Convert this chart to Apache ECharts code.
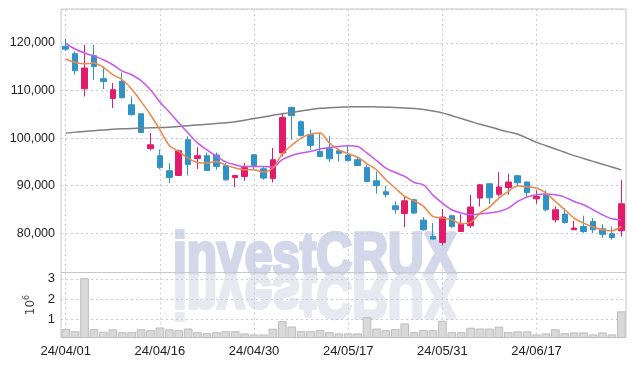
<!DOCTYPE html>
<html><head><meta charset="utf-8">
<script src="https://cdn.jsdelivr.net/npm/echarts@6/dist/echarts.min.js"></script>
<style>html,body{margin:0;padding:0;background:#fff}#c{width:634px;height:366px}</style>
</head><body><div id="c"></div><script>
const dates = ['24/04/01','24/04/02','24/04/03','24/04/04','24/04/05','24/04/08','24/04/09','24/04/11','24/04/12','24/04/15',
'24/04/16','24/04/17','24/04/18','24/04/19','24/04/22','24/04/23','24/04/24','24/04/25','24/04/26','24/04/29',
'24/04/30','24/05/02','24/05/03','24/05/07','24/05/08','24/05/09','24/05/10','24/05/13','24/05/14','24/05/16',
'24/05/17','24/05/20','24/05/21','24/05/22','24/05/23','24/05/24','24/05/27','24/05/28','24/05/29','24/05/30',
'24/05/31','24/06/03','24/06/04','24/06/05','24/06/07','24/06/10','24/06/11','24/06/12','24/06/13','24/06/14',
'24/06/17','24/06/18','24/06/19','24/06/20','24/06/21','24/06/24','24/06/25','24/06/26','24/06/27','24/06/28'];
const openP = [119330,117750,110380,117330,112480,108340,111920,107010,105120,97810,
96280,93120,92130,99650,95710,96280,96420,94170,91710,91920,
96490,93540,91500,96850,106440,103430,100700,97180,97750,97330,
96340,95440,93820,91010,88700,85750,84130,87010,82740,79290,
78030,83650,80340,81540,87370,90380,88170,89600,92070,90740,
87220,88070,82800,84000,80700,81390,82450,80910,79860,80490];
const closeP = [118700,114170,114740,115070,111920,110170,108490,104910,101180,98590,
93810,91710,97330,94440,96280,93180,94020,91220,92130,93820,
94230,91580,95440,104340,104760,100550,98450,96130,95640,96760,
95220,94230,90870,90020,88130,84970,86800,84220,80700,78740,
83370,81400,81860,85480,90170,87430,89690,90740,90590,88550,
87710,84910,84910,82240,81060,80340,80700,79750,79080,86170];
const lowP = [118300,113330,108760,112270,110320,106320,108340,104760,101050,97390,
93480,90530,92070,92130,93480,93120,93330,91010,89690,91010,
93330,91220,90660,96130,99650,100340,97540,96130,94950,95080,
95220,94170,90660,88280,87500,84070,81270,84000,80550,78600,
77440,81120,80280,81120,85610,86110,87710,88070,89810,87500,
86170,84550,82240,81960,80640,80000,80030,78960,78600,79290];
const highP = [120900,118230,119640,119640,115070,111580,113810,108760,105180,101050,
97600,94700,97540,100380,98110,96970,96970,94740,92210,94740,
96640,94030,97900,105260,106600,103710,101750,101050,100490,97430,
98450,96130,94380,92970,89960,86660,87710,87220,83370,82110,
85060,83860,83960,88070,90280,90450,92840,92490,92280,90870,
88970,88970,85610,85270,82590,83650,83170,81860,81400,91220];
const maShort = [116630,115920,115640,115790,114860,113330,112270,110320,107710,104910,
101750,98450,97180,95800,94870,94740,95080,94300,93690,93330,
93330,92840,93690,96640,98500,100000,100800,101050,98950,97540,
96700,96000,94590,93330,91220,89480,87710,86800,85610,83500,
83160,82800,81960,82240,84220,85480,87370,88760,89960,89690,
89480,88430,86660,84910,83160,82110,81270,80700,80490,81390];
const maMid = [119900,118740,117900,117250,116480,115430,114100,113330,112100,110170,
107600,105500,103200,101050,99000,97500,96200,95000,94380,94030,
94030,94030,93900,95440,96340,96850,97180,97690,98030,98240,
98380,98240,96850,95290,93690,92760,91920,90660,90170,88000,
86320,84910,84220,83860,84070,84220,84560,85270,86660,87580,
88070,88220,88070,87580,86660,85960,84910,83860,83020,82800];
const maLong = [101050,101250,101400,101550,101700,101850,101950,102000,102100,102150,
102200,102300,102450,102600,102750,102900,103050,103200,103450,103750,
104100,104450,104800,105100,105400,105700,106000,106250,106400,106500,
106550,106600,106600,106550,106500,106450,106350,106200,106000,105700,
105300,104700,104100,103500,102900,102400,101800,101300,100800,100000,
99100,98400,97700,97000,96300,95700,95100,94500,93900,93300];
const volume = [540000,440000,3030000,540000,410000,530000,390000,390000,530000,490000,
620000,530000,490000,570000,390000,340000,390000,440000,440000,330000,
280000,280000,560000,930000,670000,440000,440000,490000,390000,330000,
330000,330000,1120000,570000,490000,540000,820000,390000,490000,490000,
950000,390000,390000,610000,570000,570000,660000,390000,430000,430000,
280000,330000,530000,340000,380000,380000,280000,380000,280000,1410000];
const priceTicks = [80000, 90000, 100000, 110000, 120000];
const volTicks = [1, 2, 3];

const UP = '#e31b6b', DOWN = '#3192c6';
const FONT = 'Liberation Sans';
const gridLine = {show: true, lineStyle: {color: '#c9cbda', type: [2, 3], width: 1}};
const candleData = dates.map((d, i) => [openP[i], closeP[i], lowP[i], highP[i]]);

const chart = echarts.init(document.getElementById('c'), null, {renderer: 'canvas'});
chart.setOption({
  animation: false,
  backgroundColor: '#fff',
  graphic: [
    {type: 'text', x: 173, y: 257.5, scaleX: 0.8, z: -10, silent: true,
     style: {text: 'investCRUX', font: 'bold 62px "Liberation Sans"', fill: '#d2d8ea', stroke: '#d2d8ea', lineWidth: 3.5, verticalAlign: 'middle', align: 'left'}},
    {type: 'text', x: 173, y: 257.5, originY: 18, scaleX: 0.8, scaleY: -1, z: -10, silent: true,
     style: {text: 'investCRUX', font: 'bold 62px "Liberation Sans"', fill: '#e7e9f1', stroke: '#e7e9f1', lineWidth: 3.5, verticalAlign: 'middle', align: 'left'}}
  ],
  grid: [
    {left: 61, right: 8, top: 9, height: 263.5, show: true, borderColor: '#c6c6c6', borderWidth: 1},
    {left: 61, right: 8, top: 272.5, bottom: 28.5, show: true, borderColor: '#c6c6c6', borderWidth: 1}
  ],
  xAxis: [
    {type: 'category', data: dates, gridIndex: 0, boundaryGap: true,
     axisLine: {show: false}, axisTick: {show: false, alignWithLabel: true}, axisLabel: {show: false, interval: 9},
     splitLine: Object.assign({interval: 9, alignWithLabel: true}, gridLine)},
    {type: 'category', data: dates, gridIndex: 1, boundaryGap: true,
     axisLine: {show: false}, axisTick: {show: false, alignWithLabel: true},
     axisLabel: {show: true, interval: 9, fontSize: 13, color: '#222', fontFamily: FONT, margin: 7},
     splitLine: Object.assign({interval: 9, alignWithLabel: true}, gridLine)}
  ],
  yAxis: [
    {type: 'value', gridIndex: 0, min: 71710, max: 127160, splitNumber: 5, scale: true,
     axisLine: {show: false}, axisTick: {show: false},
     axisLabel: {fontSize: 12.5, color: '#222', fontFamily: FONT, margin: 6,
       formatter: v => priceTicks.indexOf(v) >= 0 ? v.toLocaleString('en-US') : ''},
     splitLine: gridLine},
    {type: 'value', gridIndex: 1, min: 130000, max: 3310000, splitNumber: 3,
     axisLine: {show: false}, axisTick: {show: false},
     axisLabel: {fontSize: 13, color: '#222', fontFamily: FONT, margin: 6,
       formatter: v => volTicks.indexOf(v / 1e6) >= 0 ? String(v / 1e6) : ''},
     splitLine: gridLine,
     name: '{a|10}{b|6}', nameLocation: 'middle', nameRotate: 90, nameGap: 21,
     nameTextStyle: {rich: {a: {fontSize: 12, color: '#444', fontFamily: 'DejaVu Sans'}, b: {fontSize: 8, color: '#444', fontFamily: 'DejaVu Sans', verticalAlign: 'top', padding: [0, 0, 8, 0]}}}}
  ],
  series: [
    {type: 'candlestick', xAxisIndex: 0, yAxisIndex: 0, data: candleData, barWidth: 6, z: 3,
     itemStyle: {color: UP, color0: DOWN, borderColor: UP, borderColor0: DOWN, borderWidth: 1}},
    {type: 'line', xAxisIndex: 0, yAxisIndex: 0, data: maLong, symbol: 'none', smooth: 0.3, z: 4,
     lineStyle: {color: '#7f7f7f', width: 1.5}},
    {type: 'line', xAxisIndex: 0, yAxisIndex: 0, data: maMid, symbol: 'none', smooth: 0.3, z: 4,
     lineStyle: {color: '#c558ef', width: 1.5}},
    {type: 'line', xAxisIndex: 0, yAxisIndex: 0, data: maShort, symbol: 'none', smooth: 0.3, z: 5,
     lineStyle: {color: '#ef8648', width: 1.5}},
    {type: 'bar', xAxisIndex: 1, yAxisIndex: 1, data: volume, barWidth: '92%', z: 3,
     itemStyle: {color: '#d9d9d9', borderColor: '#bdbdbd', borderWidth: 1}}
  ]
});
</script></body></html>
